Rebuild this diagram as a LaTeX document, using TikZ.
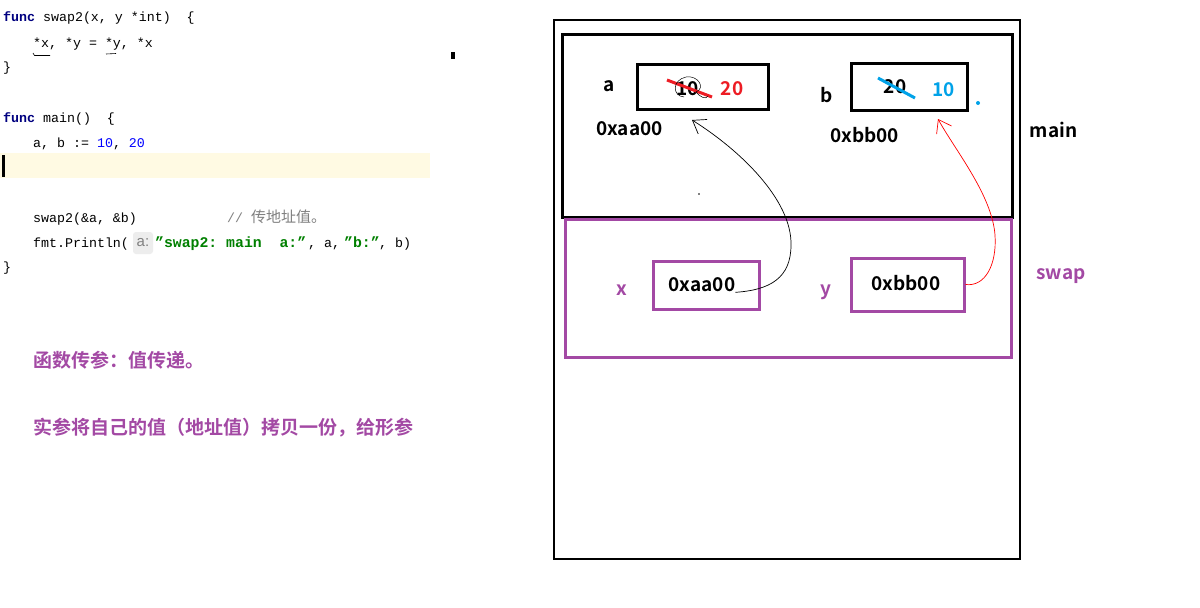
\documentclass[tikz,border=0pt]{standalone}
\usepackage{fontspec}
\setmainfont{Liberation Sans}
\setmonofont{Liberation Mono}
\newfontfamily\cjk{Noto Sans CJK SC}
\newfontfamily\cjkbf{Noto Sans CJK SC Bold}
\usetikzlibrary{positioning, arrows.meta}
\definecolor{gofunc}{HTML}{000080}
\definecolor{gonum}{HTML}{0000FF}
\definecolor{gostr}{HTML}{008000}
\definecolor{gocomment}{HTML}{808080}
\definecolor{hintgray}{HTML}{EDEDED}
\definecolor{curline}{HTML}{FFFAE3}
\definecolor{paintpurple}{HTML}{A349A4}
\definecolor{paintred}{HTML}{ED1C24}
\definecolor{paintblue}{HTML}{00A2E8}

\tikzset{
  code/.style={anchor=base west, inner sep=0pt, font=\ttfamily\fontsize{13.3}{16}\selectfont},
  note/.style={anchor=west, inner sep=0pt, text=paintpurple, font=\cjkbf\fontsize{19}{22}\selectfont},
  memtext/.style={inner sep=0pt, font=\cjkbf\fontsize{19}{22}\selectfont},
  cell/.style={draw, line width=3pt, inner sep=0pt},
  pointer/.style={line width=0.7pt, -{Straight Barb[length=12pt, width=17pt]}}
}

\begin{document}
\begin{tikzpicture}[x=1pt, y=-1pt]
  \useasboundingbox[fill=white] (0,0) rectangle (1200,608);

  % code editor
  \fill[curline] (0,153) rectangle (430,178);
  \fill[black] (2,155) rectangle (5,177);
  \node[code] (c1) at (3,21) {{\bfseries\color{gofunc}func} swap2(x, y *int)~ \{};
  \node[code] (c2) at (33,47) {*x, *y = *y, *x};
  \draw[line width=0.6pt] (33,53) -- (34.5,55.5) -- (50,55.5);
  \draw[line width=0.6pt] (106,54) -- (116,53.5);
  \node[code] (c3) at (3,71) {\}};
  \node[code] (c4) at (3,122) {{\bfseries\color{gofunc}func} main()~ \{};
  \node[code] (c5) at (33,147) {a, b := {\color{gonum}10}, {\color{gonum}20}};
  \node[code] (c6) at (33,222) {swap2(\&a, \&b)};
  \node[code, text=gocomment] (c6c) at (227,222) {// {\cjk\fontsize{15}{18}\selectfont 传地址值。}};
  \node[code] (c7) at (33,247) {fmt.Println(};
  \node[fill=hintgray, rounded corners=3pt, minimum width=20pt, minimum height=22pt, inner sep=0pt,
        text=gocomment, font=\rmfamily\fontsize{15}{17}\selectfont] (hint) at (143,243) {a:};
  \node[code, text=gostr, font=\ttfamily\bfseries\fontsize{14.8}{16}\selectfont] (s1) at (155,247) {”swap2: main~ a:”};
  \node[code] (c7b) at (308,247) {, a,};
  \node[code, text=gostr, font=\ttfamily\bfseries\fontsize{14.8}{16}\selectfont] (s2) at (344,247) {”b:”};
  \node[code] (c7c) at (379,247) {, b)};
  \node[code] (c8) at (3,271) {\}};
  \fill[black] (451,52) rectangle (455,59);

  \node[note] (note1) at (33,360) {函数传参：值传递。};
  \node[note] (note2) at (33,428) {实参将自己的值（地址值）拷贝一份，给形参};

  % stack frames
  \node[draw, line width=2.5pt, minimum width=466pt, minimum height=539pt, inner sep=0pt] (stack) at (787,289.5) {};
  \node[draw, line width=3pt, minimum width=450pt, minimum height=183pt, inner sep=0pt] (mainframe) at (787,125.5) {};
  \node[draw=paintpurple, line width=3pt, minimum width=446pt, minimum height=138pt, inner sep=0pt] (swapframe) at (788,288) {};
  \node[memtext] (mainlbl) at (1053.5,130) {main};
  \node[memtext, text=paintpurple] (swaplbl) at (1061,276) {swap};

  % main: a, b
  \node[cell, minimum width=131pt, minimum height=45pt] (abox) at (702.5,86.5) {};
  \node[memtext, left=21pt of abox] (alabel) {a};
  \node[memtext] (aaddr) at (629.5,129) {0xaa00};
  \node[memtext] (aold) at (687.5,89) {10};
  \node[memtext, text=paintred] (anew) at (732,89) {20};
  \draw[paintred, line width=3pt] (667,80) -- (712,97);
  \draw[line width=0.5pt] (684,97) .. controls (672,96) and (672,80) .. (686,77)
    .. controls (698,75) and (706,88) .. (696,92) .. controls (700,97) and (706,100) .. (708,96);

  \node[cell, minimum width=116pt, minimum height=47pt] (bbox) at (909,86.5) {};
  \node[memtext] (blabel) at (827,95) {b};
  \node[memtext] (baddr) at (864.5,135) {0xbb00};
  \node[memtext] (bold) at (895,87) {20};
  \node[memtext, text=paintblue] (bnew) at (943.5,90) {10};
  \draw[paintblue, line width=3pt] (878,78) -- (915,98);
  \fill[paintblue] (978,103) circle (2pt);
  \fill[black] (699,194) circle (0.8pt);

  % swap: x, y
  \node[cell, draw=paintpurple, minimum width=106pt, minimum height=48pt] (xbox) at (706,285) {};
  \node[memtext, text=paintpurple] (xlabel) at (622,290) {x};
  \node[memtext] (xaddr) at (702,285) {0xaa00};
  \node[cell, draw=paintpurple, minimum width=113pt, minimum height=53pt] (ybox) at (907.5,284.5) {};
  \node[memtext, text=paintpurple] (ylabel) at (826,292) {y};
  \node[memtext] (yaddr) at (906,283) {0xbb00};

  \coordinate (atip) at (692,120);
  \coordinate (btip) at (938,119);
  \draw[pointer] (xaddr.south east) .. controls (770,290) and (791,278) .. (791,245)
    .. controls (792,200) and (740,150) .. (atip);
  \draw[pointer, red] (ybox.east) .. controls (985,287) and (997,265) .. (995,235)
    .. controls (992,195) and (955,150) .. (btip);
\end{tikzpicture}
\end{document}
